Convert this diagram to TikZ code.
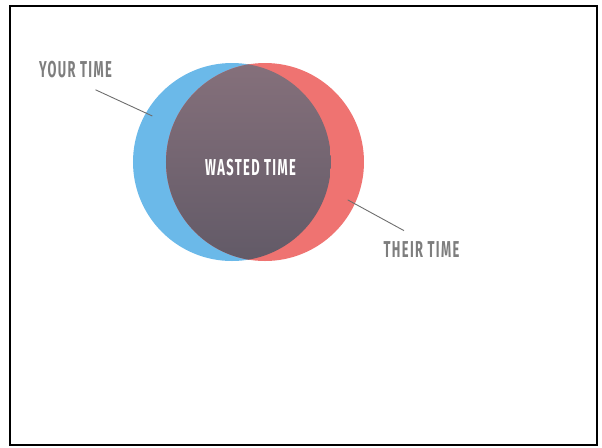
\documentclass[tikz,border=0pt]{standalone}
\usepackage{fontspec}
\usepackage{xcolor}
\usepackage{tikz}
\usetikzlibrary{calc}
\newfontfamily\vennfont[FakeStretch=0.56,LetterSpace=6]{Fira Sans}
\definecolor{yourblue}{HTML}{6BB9E9}
\definecolor{theirred}{HTML}{EF7371}
\definecolor{wastetop}{HTML}{85707B}
\definecolor{wastebottom}{HTML}{625A67}
\definecolor{labelgray}{HTML}{7E7E7E}
\definecolor{leadergray}{HTML}{6E6E6E}

\begin{document}
\begin{tikzpicture}[
  x=0.5pt, y=-0.5pt,
  font=\vennfont\bfseries\fontsize{11.5}{13}\selectfont,
  set/.style={
    circle,
    inner sep=0pt,
    minimum size=99pt
  },
  tag/.style={
    text=labelgray,
    inner sep=0pt
  },
  leader/.style={draw=leadergray,line width=0.45pt}
]

% 0. Page and frame
\useasboundingbox (0,0) rectangle (602,447);
\draw[line width=1.2pt] (10,6) rectangle (597,445);

% 1. The two sets
\node[set,fill=yourblue] (you) at (232,162) {};
\node[set,fill=theirred] (them) at (265,162) {};

% 2. Overlap
\begin{scope}
  \clip (you.center) circle[radius=49.5pt];
  \shade[top color=wastetop,bottom color=wastebottom] (them.center) circle[radius=49.5pt];
\end{scope}

% 3. Labels
\node[text=white,inner sep=0pt] (wasted) at (250.5,168) {WASTED TIME};
\node[tag] (yourlbl) at (75.5,70) {YOUR TIME};
\node[tag] (theirlbl) at (421.5,250) {THEIR TIME};

% 4. Leaders
\coordinate (yourtip) at ($(you.center)+(150:46pt)$);
\coordinate (theirtip) at ($(them.center)+(-24.6:45.5pt)$);
\draw[leader] ($(yourlbl.south)+(20,11)$) -- (yourtip);
\draw[leader] ($(theirlbl.north)+(-17.5,-11)$) -- (theirtip);

\end{tikzpicture}
\end{document}
